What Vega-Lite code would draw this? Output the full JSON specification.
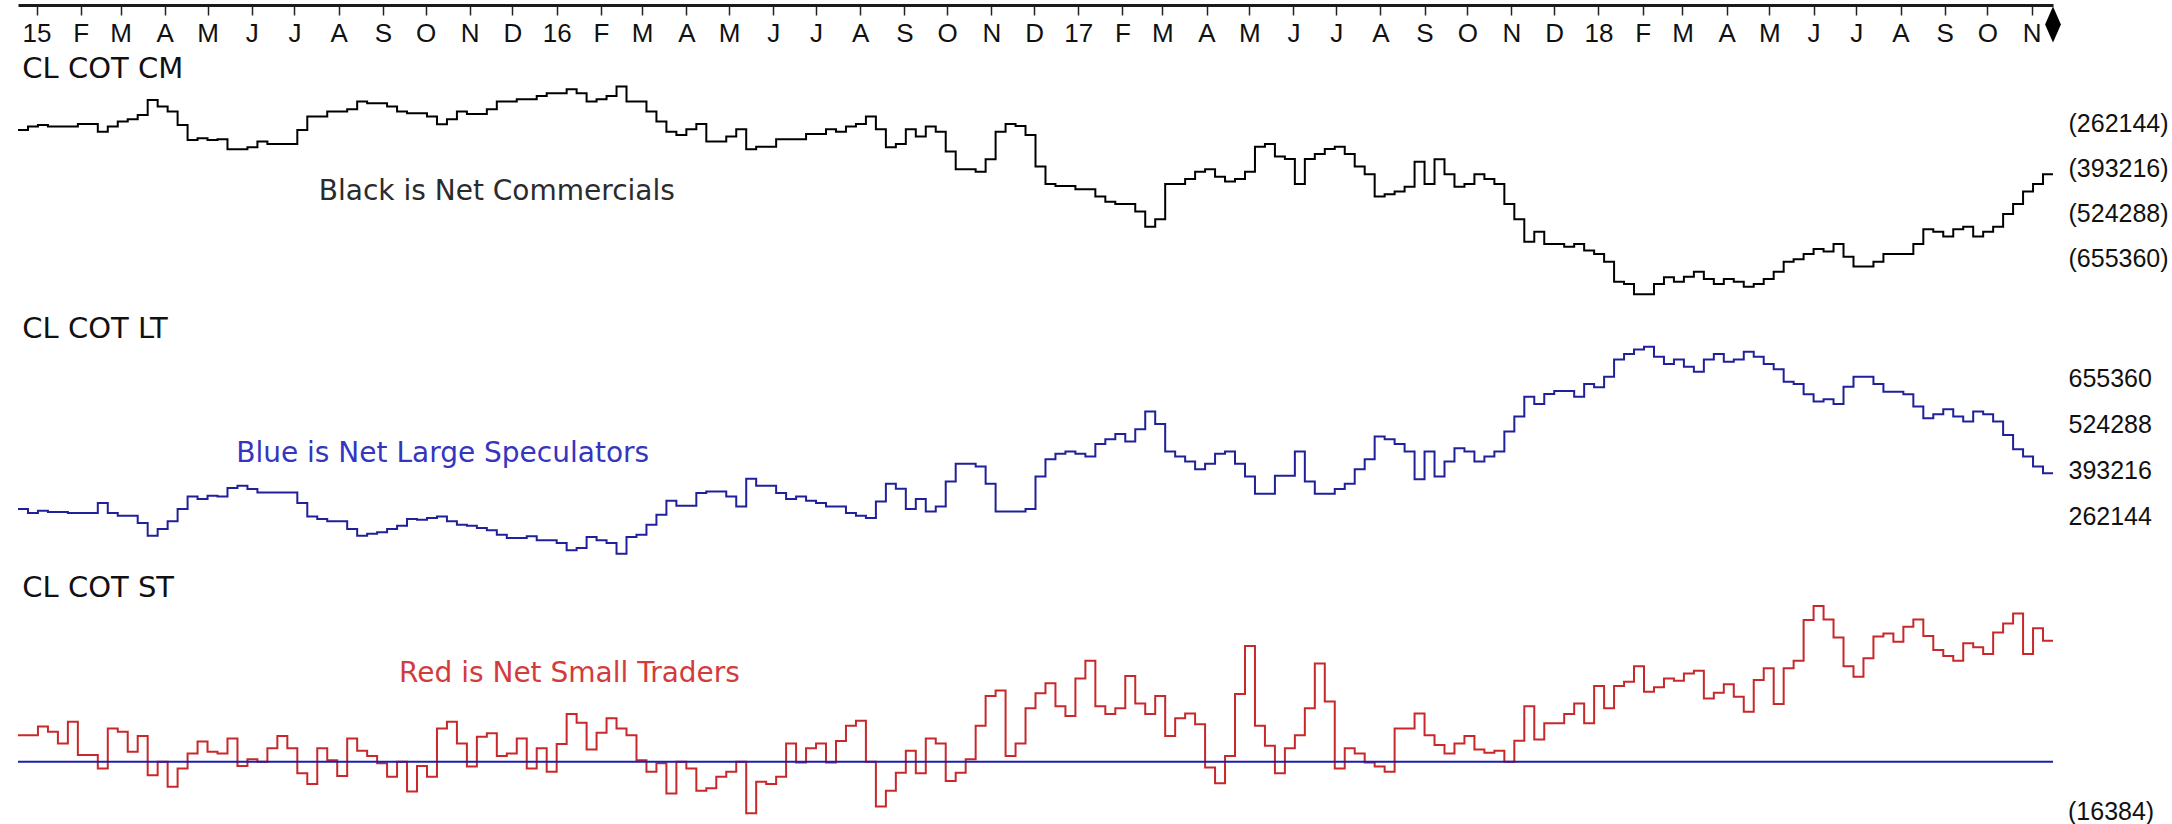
{
  "$schema": "https://vega.github.io/schema/vega-lite/v6.json",
  "background": "white",
  "padding": {"left": 14, "top": 4, "right": 0, "bottom": 0},
  "bounds": "flush",
  "spacing": 0,
  "config": {
    "view": {"stroke": null},
    "axis": {
      "grid": false,
      "labelFont": "'Liberation Sans', Arial, sans-serif",
      "labelFontSize": 25,
      "labelColor": "#111111",
      "labelOverlap": false,
      "labelBound": false,
      "labelFlush": false
    },
    "text": {"font": "'DejaVu Sans', sans-serif"}
  },
  "datasets": {
    "cot": [
      {"d": "2014-12-19", "cm": -281500, "lt": 283900, "st": 8700},
      {"d": "2014-12-26", "cm": -271800, "lt": 272500, "st": 8700},
      {"d": "2015-01-02", "cm": -266900, "lt": 279200, "st": 11500},
      {"d": "2015-01-09", "cm": -271800, "lt": 275400, "st": 9800},
      {"d": "2015-01-16", "cm": -271800, "lt": 275400, "st": 6000},
      {"d": "2015-01-23", "cm": -271800, "lt": 272500, "st": 13100},
      {"d": "2015-01-30", "cm": -264000, "lt": 272500, "st": 2200},
      {"d": "2015-02-06", "cm": -264000, "lt": 272500, "st": 2200},
      {"d": "2015-02-13", "cm": -286400, "lt": 301000, "st": -2200},
      {"d": "2015-02-20", "cm": -271800, "lt": 272500, "st": 10900},
      {"d": "2015-02-27", "cm": -257200, "lt": 264900, "st": 9800},
      {"d": "2015-03-06", "cm": -250400, "lt": 264900, "st": 3300},
      {"d": "2015-03-13", "cm": -237800, "lt": 244000, "st": 8400},
      {"d": "2015-03-20", "cm": -194100, "lt": 207900, "st": -4400},
      {"d": "2015-03-27", "cm": -213500, "lt": 226900, "st": 0},
      {"d": "2015-04-03", "cm": -228100, "lt": 248800, "st": -8200},
      {"d": "2015-04-10", "cm": -266900, "lt": 283900, "st": -2200},
      {"d": "2015-04-17", "cm": -310600, "lt": 320000, "st": 2700},
      {"d": "2015-04-24", "cm": -305800, "lt": 312400, "st": 6600},
      {"d": "2015-05-01", "cm": -310600, "lt": 321900, "st": 3300},
      {"d": "2015-05-08", "cm": -308700, "lt": 320000, "st": 2700},
      {"d": "2015-05-15", "cm": -337800, "lt": 343800, "st": 7600},
      {"d": "2015-05-22", "cm": -337800, "lt": 350400, "st": -1400},
      {"d": "2015-05-29", "cm": -332000, "lt": 340900, "st": 800},
      {"d": "2015-06-05", "cm": -315500, "lt": 331400, "st": 0},
      {"d": "2015-06-12", "cm": -322300, "lt": 331400, "st": 4400},
      {"d": "2015-06-19", "cm": -322300, "lt": 331400, "st": 8400},
      {"d": "2015-06-26", "cm": -322300, "lt": 331400, "st": 4400},
      {"d": "2015-07-03", "cm": -281500, "lt": 301000, "st": -3800},
      {"d": "2015-07-10", "cm": -242700, "lt": 263000, "st": -7300},
      {"d": "2015-07-17", "cm": -242700, "lt": 255400, "st": 4400},
      {"d": "2015-07-24", "cm": -228100, "lt": 248800, "st": 500},
      {"d": "2015-07-31", "cm": -228100, "lt": 248800, "st": -4700},
      {"d": "2015-08-07", "cm": -221300, "lt": 226900, "st": 7600},
      {"d": "2015-08-14", "cm": -199000, "lt": 207900, "st": 3600},
      {"d": "2015-08-21", "cm": -203800, "lt": 213600, "st": 1900},
      {"d": "2015-08-28", "cm": -203800, "lt": 217400, "st": -500},
      {"d": "2015-09-04", "cm": -213500, "lt": 226900, "st": -4900},
      {"d": "2015-09-11", "cm": -228100, "lt": 236400, "st": 0},
      {"d": "2015-09-18", "cm": -233000, "lt": 255400, "st": -9800},
      {"d": "2015-09-25", "cm": -233000, "lt": 253500, "st": -1400},
      {"d": "2015-10-02", "cm": -242700, "lt": 258300, "st": -4900},
      {"d": "2015-10-09", "cm": -265000, "lt": 263000, "st": 10900},
      {"d": "2015-10-16", "cm": -250400, "lt": 248800, "st": 13100},
      {"d": "2015-10-23", "cm": -228100, "lt": 239300, "st": 6000},
      {"d": "2015-10-30", "cm": -234900, "lt": 236400, "st": -1600},
      {"d": "2015-11-06", "cm": -234900, "lt": 229800, "st": 8200},
      {"d": "2015-11-13", "cm": -221300, "lt": 223100, "st": 9300},
      {"d": "2015-11-20", "cm": -199000, "lt": 210800, "st": 1900},
      {"d": "2015-11-27", "cm": -199000, "lt": 201300, "st": 2700},
      {"d": "2015-12-04", "cm": -192200, "lt": 201300, "st": 7600},
      {"d": "2015-12-11", "cm": -192200, "lt": 206000, "st": -2200},
      {"d": "2015-12-18", "cm": -182500, "lt": 194600, "st": 4400},
      {"d": "2015-12-25", "cm": -174700, "lt": 194600, "st": -3300},
      {"d": "2016-01-01", "cm": -174700, "lt": 187000, "st": 5800},
      {"d": "2016-01-08", "cm": -163000, "lt": 166100, "st": 15600},
      {"d": "2016-01-15", "cm": -174700, "lt": 172800, "st": 12800},
      {"d": "2016-01-22", "cm": -199000, "lt": 204100, "st": 4000},
      {"d": "2016-01-29", "cm": -192200, "lt": 194600, "st": 9500},
      {"d": "2016-02-05", "cm": -182500, "lt": 187000, "st": 14200},
      {"d": "2016-02-12", "cm": -155300, "lt": 156600, "st": 10900},
      {"d": "2016-02-19", "cm": -199000, "lt": 204100, "st": 8700},
      {"d": "2016-02-26", "cm": -199000, "lt": 210800, "st": 500},
      {"d": "2016-03-04", "cm": -228100, "lt": 239300, "st": -3300},
      {"d": "2016-03-11", "cm": -257200, "lt": 267800, "st": -500},
      {"d": "2016-03-18", "cm": -286400, "lt": 307700, "st": -10400},
      {"d": "2016-03-25", "cm": -296100, "lt": 293400, "st": 0},
      {"d": "2016-04-01", "cm": -279600, "lt": 293400, "st": -2200},
      {"d": "2016-04-08", "cm": -264000, "lt": 329500, "st": -9500},
      {"d": "2016-04-15", "cm": -315500, "lt": 334300, "st": -8700},
      {"d": "2016-04-22", "cm": -315500, "lt": 334300, "st": -4900},
      {"d": "2016-04-29", "cm": -300900, "lt": 320000, "st": -3300},
      {"d": "2016-05-06", "cm": -279600, "lt": 291500, "st": 0},
      {"d": "2016-05-13", "cm": -337800, "lt": 370400, "st": -16900},
      {"d": "2016-05-20", "cm": -330100, "lt": 350400, "st": -6600},
      {"d": "2016-05-27", "cm": -330100, "lt": 350400, "st": -7300},
      {"d": "2016-06-03", "cm": -308700, "lt": 329500, "st": -4900},
      {"d": "2016-06-10", "cm": -308700, "lt": 312400, "st": 6000},
      {"d": "2016-06-17", "cm": -308700, "lt": 320000, "st": -300},
      {"d": "2016-06-24", "cm": -293200, "lt": 307700, "st": 4400},
      {"d": "2016-07-01", "cm": -293200, "lt": 301000, "st": 6000},
      {"d": "2016-07-08", "cm": -279600, "lt": 291500, "st": -300},
      {"d": "2016-07-15", "cm": -286400, "lt": 291500, "st": 6800},
      {"d": "2016-07-22", "cm": -271800, "lt": 272500, "st": 11800},
      {"d": "2016-07-29", "cm": -264000, "lt": 264900, "st": 13400},
      {"d": "2016-08-05", "cm": -242700, "lt": 258300, "st": 0},
      {"d": "2016-08-12", "cm": -279600, "lt": 305800, "st": -14700},
      {"d": "2016-08-19", "cm": -332000, "lt": 356100, "st": -9500},
      {"d": "2016-08-26", "cm": -322300, "lt": 341900, "st": -3600},
      {"d": "2016-09-02", "cm": -279600, "lt": 283900, "st": 3600},
      {"d": "2016-09-09", "cm": -300900, "lt": 312400, "st": -3800},
      {"d": "2016-09-16", "cm": -271800, "lt": 277300, "st": 7600},
      {"d": "2016-09-23", "cm": -286400, "lt": 291500, "st": 6000},
      {"d": "2016-09-30", "cm": -344600, "lt": 362800, "st": -6300},
      {"d": "2016-10-07", "cm": -396100, "lt": 413100, "st": -3600},
      {"d": "2016-10-14", "cm": -396100, "lt": 413100, "st": 800},
      {"d": "2016-10-21", "cm": -402900, "lt": 405500, "st": 11800},
      {"d": "2016-10-28", "cm": -367000, "lt": 356100, "st": 21500},
      {"d": "2016-11-04", "cm": -286400, "lt": 277300, "st": 23300},
      {"d": "2016-11-11", "cm": -264000, "lt": 277300, "st": 1900},
      {"d": "2016-11-18", "cm": -269900, "lt": 277300, "st": 6000},
      {"d": "2016-11-25", "cm": -296100, "lt": 283900, "st": 17500},
      {"d": "2016-12-02", "cm": -388300, "lt": 377000, "st": 22400},
      {"d": "2016-12-09", "cm": -438800, "lt": 426400, "st": 25700},
      {"d": "2016-12-16", "cm": -444600, "lt": 441600, "st": 18200},
      {"d": "2016-12-23", "cm": -444600, "lt": 448300, "st": 15000},
      {"d": "2016-12-30", "cm": -454300, "lt": 441600, "st": 27300},
      {"d": "2017-01-06", "cm": -454300, "lt": 434000, "st": 33100},
      {"d": "2017-01-13", "cm": -475700, "lt": 470100, "st": 18200},
      {"d": "2017-01-20", "cm": -490300, "lt": 483400, "st": 15600},
      {"d": "2017-01-27", "cm": -497100, "lt": 498600, "st": 17500},
      {"d": "2017-02-03", "cm": -497100, "lt": 476800, "st": 28100},
      {"d": "2017-02-10", "cm": -519400, "lt": 511900, "st": 19100},
      {"d": "2017-02-17", "cm": -563100, "lt": 562300, "st": 15600},
      {"d": "2017-02-24", "cm": -541700, "lt": 527100, "st": 21500},
      {"d": "2017-03-03", "cm": -438800, "lt": 448300, "st": 8400},
      {"d": "2017-03-10", "cm": -438800, "lt": 434000, "st": 14200},
      {"d": "2017-03-17", "cm": -424200, "lt": 419800, "st": 15800},
      {"d": "2017-03-24", "cm": -402900, "lt": 397900, "st": 12300},
      {"d": "2017-03-31", "cm": -396100, "lt": 413100, "st": -1900},
      {"d": "2017-04-07", "cm": -417500, "lt": 441600, "st": -7100},
      {"d": "2017-04-14", "cm": -432000, "lt": 448300, "st": 1900},
      {"d": "2017-04-21", "cm": -424200, "lt": 413100, "st": 22200},
      {"d": "2017-04-28", "cm": -402900, "lt": 377000, "st": 37900},
      {"d": "2017-05-05", "cm": -330100, "lt": 327600, "st": 11800},
      {"d": "2017-05-12", "cm": -322300, "lt": 327600, "st": 5200},
      {"d": "2017-05-19", "cm": -359200, "lt": 378900, "st": -3800},
      {"d": "2017-05-26", "cm": -366000, "lt": 378900, "st": 4400},
      {"d": "2017-06-02", "cm": -438800, "lt": 448300, "st": 8700},
      {"d": "2017-06-09", "cm": -366000, "lt": 362800, "st": 17500},
      {"d": "2017-06-16", "cm": -351400, "lt": 327600, "st": 32200},
      {"d": "2017-06-23", "cm": -336900, "lt": 327600, "st": 19700},
      {"d": "2017-06-30", "cm": -330100, "lt": 340900, "st": -2200},
      {"d": "2017-07-07", "cm": -351400, "lt": 356100, "st": 4400},
      {"d": "2017-07-14", "cm": -388300, "lt": 397900, "st": 2700},
      {"d": "2017-07-21", "cm": -410700, "lt": 426400, "st": -300},
      {"d": "2017-07-28", "cm": -475700, "lt": 491000, "st": -1600},
      {"d": "2017-08-04", "cm": -468900, "lt": 483400, "st": -3300},
      {"d": "2017-08-11", "cm": -461100, "lt": 470100, "st": 10900},
      {"d": "2017-08-18", "cm": -446600, "lt": 448300, "st": 10900},
      {"d": "2017-08-25", "cm": -373800, "lt": 369400, "st": 15800},
      {"d": "2017-09-01", "cm": -438800, "lt": 448300, "st": 8700},
      {"d": "2017-09-08", "cm": -367000, "lt": 377000, "st": 5500},
      {"d": "2017-09-15", "cm": -410700, "lt": 419800, "st": 2700},
      {"d": "2017-09-22", "cm": -446600, "lt": 457800, "st": 6000},
      {"d": "2017-09-29", "cm": -438800, "lt": 448300, "st": 8400},
      {"d": "2017-10-06", "cm": -410700, "lt": 419800, "st": 4000},
      {"d": "2017-10-13", "cm": -424200, "lt": 434000, "st": 2900},
      {"d": "2017-10-20", "cm": -438800, "lt": 448300, "st": 3600},
      {"d": "2017-10-27", "cm": -497100, "lt": 505300, "st": 0},
      {"d": "2017-11-03", "cm": -541700, "lt": 548000, "st": 6900},
      {"d": "2017-11-10", "cm": -606800, "lt": 605000, "st": 18200},
      {"d": "2017-11-17", "cm": -577700, "lt": 584100, "st": 7300},
      {"d": "2017-11-24", "cm": -613600, "lt": 612600, "st": 12600},
      {"d": "2017-12-01", "cm": -613600, "lt": 621200, "st": 12600},
      {"d": "2017-12-08", "cm": -621400, "lt": 621200, "st": 15600},
      {"d": "2017-12-15", "cm": -613600, "lt": 605000, "st": 19100},
      {"d": "2017-12-22", "cm": -633000, "lt": 641100, "st": 12600},
      {"d": "2017-12-29", "cm": -642700, "lt": 631600, "st": 24800},
      {"d": "2018-01-05", "cm": -665100, "lt": 662000, "st": 17500},
      {"d": "2018-01-12", "cm": -723300, "lt": 711400, "st": 24800},
      {"d": "2018-01-19", "cm": -730100, "lt": 726600, "st": 26200},
      {"d": "2018-01-26", "cm": -760200, "lt": 739900, "st": 31300},
      {"d": "2018-02-02", "cm": -760200, "lt": 747500, "st": 22900},
      {"d": "2018-02-09", "cm": -730100, "lt": 719000, "st": 24400},
      {"d": "2018-02-16", "cm": -710700, "lt": 698100, "st": 27300},
      {"d": "2018-02-23", "cm": -723300, "lt": 711400, "st": 26500},
      {"d": "2018-03-02", "cm": -708800, "lt": 690500, "st": 28900},
      {"d": "2018-03-09", "cm": -694200, "lt": 676300, "st": 29800},
      {"d": "2018-03-16", "cm": -715500, "lt": 711400, "st": 20700},
      {"d": "2018-03-23", "cm": -730100, "lt": 726600, "st": 22600},
      {"d": "2018-03-30", "cm": -715500, "lt": 704800, "st": 25400},
      {"d": "2018-04-06", "cm": -723300, "lt": 711400, "st": 21300},
      {"d": "2018-04-13", "cm": -737900, "lt": 733300, "st": 16400},
      {"d": "2018-04-20", "cm": -730100, "lt": 719000, "st": 26800},
      {"d": "2018-04-27", "cm": -715500, "lt": 698100, "st": 30600},
      {"d": "2018-05-04", "cm": -694200, "lt": 682900, "st": 18900},
      {"d": "2018-05-11", "cm": -665100, "lt": 647800, "st": 30600},
      {"d": "2018-05-18", "cm": -658300, "lt": 641100, "st": 33100},
      {"d": "2018-05-25", "cm": -642700, "lt": 611700, "st": 46400},
      {"d": "2018-06-01", "cm": -628200, "lt": 590800, "st": 51000},
      {"d": "2018-06-08", "cm": -635900, "lt": 597400, "st": 46600},
      {"d": "2018-06-15", "cm": -613600, "lt": 584100, "st": 40700},
      {"d": "2018-06-22", "cm": -650500, "lt": 633500, "st": 31300},
      {"d": "2018-06-29", "cm": -679600, "lt": 662000, "st": 27800},
      {"d": "2018-07-06", "cm": -679600, "lt": 662000, "st": 33900},
      {"d": "2018-07-13", "cm": -665100, "lt": 641100, "st": 41000},
      {"d": "2018-07-20", "cm": -642700, "lt": 619300, "st": 42000},
      {"d": "2018-07-27", "cm": -642700, "lt": 619300, "st": 39300},
      {"d": "2018-08-03", "cm": -642700, "lt": 611700, "st": 44200},
      {"d": "2018-08-10", "cm": -613600, "lt": 576500, "st": 46600},
      {"d": "2018-08-17", "cm": -570900, "lt": 543300, "st": 41200},
      {"d": "2018-08-24", "cm": -577700, "lt": 554700, "st": 36600},
      {"d": "2018-08-31", "cm": -592200, "lt": 568900, "st": 34600},
      {"d": "2018-09-07", "cm": -570900, "lt": 548000, "st": 33100},
      {"d": "2018-09-14", "cm": -563100, "lt": 533800, "st": 38800},
      {"d": "2018-09-21", "cm": -592200, "lt": 562300, "st": 37500},
      {"d": "2018-09-28", "cm": -577700, "lt": 554700, "st": 35300},
      {"d": "2018-10-05", "cm": -563100, "lt": 533800, "st": 42300},
      {"d": "2018-10-12", "cm": -526200, "lt": 495800, "st": 45300},
      {"d": "2018-10-19", "cm": -497100, "lt": 454900, "st": 48600},
      {"d": "2018-10-26", "cm": -461100, "lt": 434000, "st": 35300},
      {"d": "2018-11-02", "cm": -438800, "lt": 405500, "st": 43700},
      {"d": "2018-11-09", "cm": -410700, "lt": 386500, "st": 39600},
      {"d": "2018-11-16", "cm": -410700, "lt": 386500, "st": 39600}
    ]
  },
  "vconcat": [
    {
      "width": 2035,
      "height": 1,
      "data": {"values": [{"d": "2018-11-16"}]},
      "mark": {
        "type": "point",
        "shape": "M0,-1L0.44,0L0,1L-0.44,0Z",
        "filled": true,
        "color": "#000000",
        "opacity": 1,
        "size": 1300,
        "yOffset": 20
      },
      "encoding": {
        "x": {
          "field": "d",
          "type": "temporal",
          "scale": {
            "type": "utc",
            "domain": [
              {"year": 2014, "month": 12, "date": 19, "utc": true},
              {"year": 2018, "month": 11, "date": 16, "utc": true}
            ]
          },
          "axis": {
            "orient": "bottom",
            "title": null,
            "domain": true,
            "domainColor": "#1a1a1a",
            "domainWidth": 3,
            "ticks": true,
            "tickColor": "#222222",
            "tickWidth": 1.5,
            "tickSize": 10,
            "tickCount": {"interval": "month", "step": 1},
            "labelExpr": "utcmonth(datum.value) == 0 ? utcFormat(datum.value, '%y') : slice(utcFormat(datum.value, '%b'), 0, 1)",
            "labelFontSize": 26,
            "labelPadding": 5
          }
        }
      }
    },
    {
      "width": 2035,
      "height": 300,
      "encoding": {
        "x": {
          "field": "d",
          "type": "temporal",
          "scale": {
            "type": "utc",
            "domain": [
              {"year": 2014, "month": 12, "date": 19, "utc": true},
              {"year": 2018, "month": 11, "date": 16, "utc": true}
            ]
          },
          "axis": null
        },
        "y": {
          "field": "cm",
          "type": "quantitative",
          "scale": {"domain": [-791382, 82428], "nice": false, "zero": false},
          "axis": {
            "orient": "right",
            "title": null,
            "domain": false,
            "ticks": false,
            "labelPadding": 15,
            "values": [-262144, -393216, -524288, -655360],
            "labelExpr": "datum.value < 0 ? '(' + format(-datum.value, 'd') + ')' : format(datum.value, 'd')"
          }
        }
      },
      "layer": [
        {
          "data": {"name": "cot"},
          "mark": {"type": "line", "interpolate": "step-after", "color": "#000000", "strokeWidth": 2}
        },
        {
          "data": {"values": [{"d": "2014-12-22", "cm": -130200, "label": "CL COT CM"}]},
          "mark": {"type": "text", "align": "left", "baseline": "alphabetic", "fontSize": 29, "color": "#111111"},
          "encoding": {"text": {"field": "label"}}
        },
        {
          "data": {"values": [{"d": "2015-11-20", "cm": -485500, "label": "Black is Net Commercials"}]},
          "mark": {"type": "text", "align": "center", "baseline": "alphabetic", "fontSize": 28, "color": "#2b2b2b"},
          "encoding": {"text": {"field": "label"}}
        }
      ]
    },
    {
      "width": 2035,
      "height": 265,
      "encoding": {
        "x": {
          "field": "d",
          "type": "temporal",
          "scale": {
            "type": "utc",
            "domain": [
              {"year": 2014, "month": 12, "date": 19, "utc": true},
              {"year": 2018, "month": 11, "date": 16, "utc": true}
            ]
          },
          "axis": null
        },
        "y": {
          "field": "lt",
          "type": "quantitative",
          "scale": {"domain": [109940, 866674], "nice": false, "zero": false},
          "axis": {
            "orient": "right",
            "title": null,
            "domain": false,
            "ticks": false,
            "labelPadding": 15,
            "values": [655360, 524288, 393216, 262144],
            "labelExpr": "datum.value < 0 ? '(' + format(-datum.value, 'd') + ')' : format(datum.value, 'd')"
          }
        }
      },
      "layer": [
        {
          "data": {"name": "cot"},
          "mark": {"type": "line", "interpolate": "step-after", "color": "#20209a", "strokeWidth": 2}
        },
        {
          "data": {"values": [{"d": "2014-12-22", "lt": 771600, "label": "CL COT LT"}]},
          "mark": {"type": "text", "align": "left", "baseline": "alphabetic", "fontSize": 29, "color": "#111111"},
          "encoding": {"text": {"field": "label"}}
        },
        {
          "data": {"values": [{"d": "2015-10-13", "lt": 419200, "label": "Blue is Net Large Speculators"}]},
          "mark": {"type": "text", "align": "center", "baseline": "alphabetic", "fontSize": 28, "color": "#3535c0"},
          "encoding": {"text": {"field": "label"}}
        }
      ]
    },
    {
      "width": 2035,
      "height": 254,
      "encoding": {
        "x": {
          "field": "d",
          "type": "temporal",
          "scale": {
            "type": "utc",
            "domain": [
              {"year": 2014, "month": 12, "date": 19, "utc": true},
              {"year": 2018, "month": 11, "date": 16, "utc": true}
            ]
          },
          "axis": null
        },
        "y": {
          "field": "st",
          "type": "quantitative",
          "scale": {"domain": [-20414, 62817], "nice": false, "zero": false},
          "axis": {
            "orient": "right",
            "title": null,
            "domain": false,
            "ticks": false,
            "labelPadding": 15,
            "values": [49152, 32768, 16384, 0],
            "labelExpr": "datum.value < 0 ? '(' + format(-datum.value, 'd') + ')' : format(datum.value, 'd')"
          }
        }
      },
      "layer": [
        {
          "data": {"name": "cot"},
          "mark": {"type": "line", "interpolate": "step-after", "color": "#c8282a", "strokeWidth": 2}
        },
        {
          "data": {"name": "cot"},
          "mark": {"type": "line", "color": "#1e1eaa", "strokeWidth": 2},
          "encoding": {
            "y": {
              "datum": 0,
              "type": "quantitative",
              "scale": {"domain": [-20414, 62817], "nice": false, "zero": false},
              "axis": null
            }
          }
        },
        {
          "data": {"values": [{"d": "2018-11-16", "st": -16384, "label": "(16384)"}]},
          "mark": {"type": "text", "align": "left", "baseline": "middle", "dx": 15, "font": "'Liberation Sans', Arial, sans-serif", "fontSize": 25, "color": "#111111"},
          "encoding": {"text": {"field": "label"}}
        },
        {
          "data": {"values": [{"d": "2014-12-22", "st": 54000, "label": "CL COT ST"}]},
          "mark": {"type": "text", "align": "left", "baseline": "alphabetic", "fontSize": 29, "color": "#111111"},
          "encoding": {"text": {"field": "label"}}
        },
        {
          "data": {"values": [{"d": "2016-01-10", "st": 26200, "label": "Red is Net Small Traders"}]},
          "mark": {"type": "text", "align": "center", "baseline": "alphabetic", "fontSize": 28, "color": "#d23c3c"},
          "encoding": {"text": {"field": "label"}}
        }
      ]
    }
  ]
}
